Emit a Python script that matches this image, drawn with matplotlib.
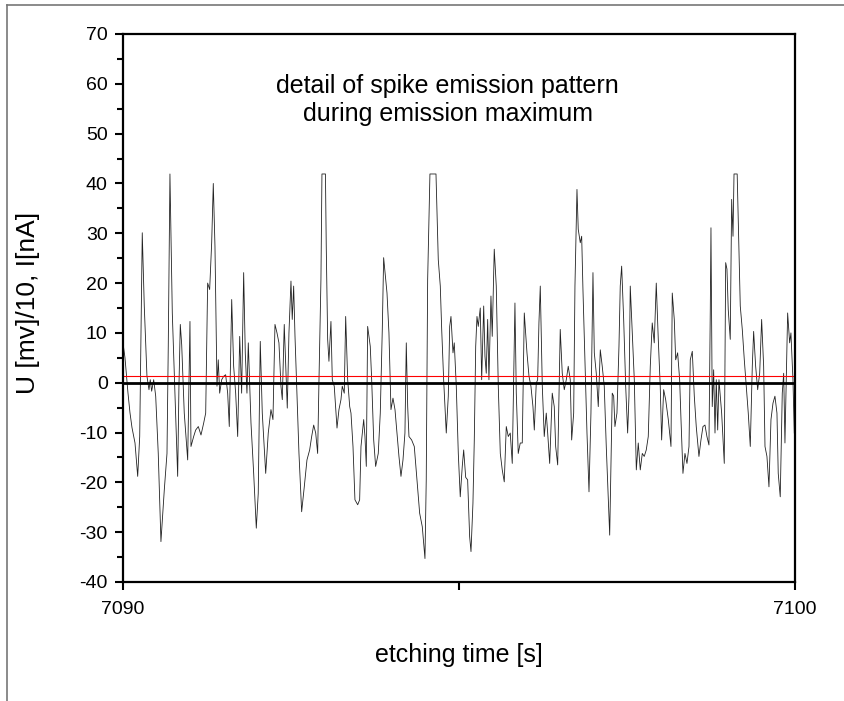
import matplotlib
matplotlib.use('Agg')
import matplotlib.pyplot as plt
from matplotlib.lines import Line2D
from matplotlib.ticker import MultipleLocator

plt.rcParams.update({
    'font.family': ['Liberation Sans', 'DejaVu Sans'],
    'font.size': 13,
    'axes.unicode_minus': False,
})

# Data
t_start = 7090
t_rel = [
    0.000, 0.030, 0.074, 0.104, 0.134, 0.179, 0.219, 0.249, 0.287, 0.317,
    0.357, 0.387, 0.406, 0.427, 0.457, 0.487, 0.525, 0.565, 0.615, 0.655,
    0.674, 0.699, 0.734, 0.763, 0.793, 0.814, 0.833, 0.853, 0.874, 0.912,
    0.963, 0.997, 1.012, 1.052, 1.082, 1.121, 1.161, 1.201, 1.231, 1.260,
    1.290, 1.320, 1.344, 1.369, 1.399, 1.418, 1.439, 1.469, 1.499, 1.528,
    1.558, 1.582, 1.618, 1.647, 1.677, 1.707, 1.737, 1.766, 1.796, 1.820,
    1.845, 1.865, 1.905, 1.945, 1.984, 2.013, 2.043, 2.073, 2.124, 2.162,
    2.202, 2.232, 2.262, 2.292, 2.321, 2.351, 2.371, 2.400, 2.421, 2.445,
    2.470, 2.500, 2.519, 2.540, 2.560, 2.589, 2.619, 2.659, 2.698, 2.738,
    2.778, 2.808, 2.838, 2.868, 2.897, 2.917, 2.946, 2.961, 3.013, 3.025,
    3.046, 3.065, 3.095, 3.115, 3.144, 3.185, 3.214, 3.244, 3.263, 3.293,
    3.314, 3.344, 3.374, 3.393, 3.423, 3.452, 3.493, 3.522, 3.542, 3.582,
    3.601, 3.621, 3.641, 3.661, 3.680, 3.701, 3.731, 3.760, 3.799, 3.829,
    3.859, 3.879, 3.909, 3.929, 3.958, 3.988, 4.018, 4.048, 4.077, 4.107,
    4.137, 4.167, 4.196, 4.216, 4.237, 4.256, 4.296, 4.335, 4.375, 4.415,
    4.454, 4.494, 4.513, 4.534, 4.568, 4.658, 4.692, 4.722, 4.743, 4.772,
    4.792, 4.811, 4.841, 4.862, 4.881, 4.911, 4.930, 4.960, 4.990, 5.019,
    5.049, 5.070, 5.100, 5.129, 5.159, 5.179, 5.208, 5.228, 5.249, 5.268,
    5.287, 5.317, 5.338, 5.368, 5.387, 5.406, 5.427, 5.446, 5.476, 5.495,
    5.525, 5.555, 5.585, 5.615, 5.644, 5.674, 5.704, 5.734, 5.763, 5.793,
    5.833, 5.853, 5.882, 5.912, 5.942, 5.972, 6.012, 6.042, 6.071, 6.101,
    6.121, 6.150, 6.171, 6.190, 6.210, 6.240, 6.269, 6.299, 6.320, 6.350,
    6.388, 6.418, 6.439, 6.469, 6.507, 6.537, 6.567, 6.597, 6.626, 6.656,
    6.677, 6.707, 6.726, 6.756, 6.775, 6.805, 6.826, 6.845, 6.875, 6.905,
    6.935, 6.964, 6.994, 7.014, 7.043, 7.073, 7.103, 7.132, 7.162, 7.192,
    7.222, 7.243, 7.262, 7.281, 7.302, 7.321, 7.351, 7.381, 7.400, 7.421,
    7.451, 7.481, 7.510, 7.530, 7.549, 7.579, 7.609, 7.639, 7.668, 7.698,
    7.728, 7.757, 7.787, 7.817, 7.847, 7.876, 7.906, 7.936, 7.966, 7.995,
    8.016, 8.046, 8.076, 8.115, 8.155, 8.174, 8.204, 8.225, 8.254, 8.284,
    8.304, 8.333, 8.363, 8.393, 8.423, 8.442, 8.472, 8.502, 8.531, 8.571,
    8.601, 8.631, 8.661, 8.690, 8.720, 8.740, 8.750, 8.769, 8.790, 8.810,
    8.829, 8.850, 8.869, 8.909, 8.948, 8.969, 8.988, 9.007, 9.037, 9.058,
    9.078, 9.093, 9.140, 9.156, 9.186, 9.216, 9.246, 9.275, 9.305, 9.335,
    9.365, 9.385, 9.415, 9.445, 9.475, 9.504, 9.534, 9.554, 9.583, 9.613,
    9.643, 9.673, 9.702, 9.732, 9.751, 9.781, 9.811, 9.832, 9.851, 9.871,
    9.891, 9.921, 9.940, 9.970, 9.990,
]
u_signal = [
    8.0, 5.0, -2.0, -6.0, -9.0, -12.1, -18.8, -10.8, 30.1, 15.4,
    1.3, -1.4, 0.6, -1.7, 0.6, -2.7, -14.2, -31.9, -21.5, -14.2,
    7.3, 41.9, 14.0, 1.9, -10.8, -18.8, -0.7, 11.7, 7.6, -6.1,
    -15.5, 12.3, -12.8, -10.8, -9.5, -8.8, -10.5, -8.1, -6.1, 20.0,
    18.7, 28.1, 40.0, 27.4, -0.7, 4.6, -2.1, 0.6, 1.3, 1.6,
    -2.1, -8.8, 16.7, 3.3, -2.1, -10.8, 9.3, -2.1, 22.1, 6.0,
    -2.1, 8.0, -8.1, -18.2, -29.2, -22.2, 8.3, -6.1, -18.2, -10.1,
    -5.4, -7.4, 11.7, 10.0, 8.0, -0.7, -3.4, 11.7, 4.0, -5.1,
    10.0, 20.4, 12.7, 19.4, 9.3, -2.1, -14.2, -25.9, -20.9, -15.5,
    -13.5, -10.8, -8.5, -10.1, -14.2, 0.6, 20.7, 41.9, 41.9, 27.4,
    8.7, 4.3, 12.3, 0.6, -0.7, -9.1, -5.4, -3.4, -0.7, -2.1,
    13.3, 0.6, -4.8, -6.1, -12.8, -23.5, -24.5, -23.5, -12.8, -7.4,
    -10.8, -16.8, 11.3, 9.3, 7.3, 0.6, -11.5, -16.8, -14.2, -6.1,
    10.7, 25.1, 20.7, 18.0, 10.0, -5.4, -3.1, -5.4, -10.1, -14.8,
    -18.8, -15.5, -10.1, 8.0, -4.8, -10.8, -11.5, -12.8, -19.5, -26.2,
    -28.9, -35.3, -19.5, 20.7, 41.9, 41.9, 24.7, 19.4, 10.7, 0.6,
    -4.8, -10.1, -2.7, 11.3, 13.3, 6.0, 8.0, -0.7, -14.2, -22.9,
    -16.8, -13.5, -19.0, -19.5, -30.9, -33.9, -24.2, -11.5, 7.3, 13.3,
    11.3, 15.0, 0.6, 15.4, 5.3, 1.9, 12.7, 0.6, 17.4, 9.3,
    26.8, 19.4, -0.7, -14.2, -17.5, -19.9, -8.8, -10.8, -10.1, -16.2,
    16.0, -2.1, -14.2, -12.1, -12.1, 14.0, 6.0, 1.3, -0.7, -4.8,
    -9.5, -0.1, 0.6, 12.0, 19.4, -0.7, -10.8, -6.1, -10.1, -16.2,
    -2.1, -4.8, -12.8, -16.5, 10.7, 1.9, -1.4, 0.6, 3.3, 0.6,
    -11.5, -6.1, 19.4, 38.8, 30.8, 28.1, 29.4, 18.7, 4.0, -10.1,
    -21.9, -6.1, 22.1, 6.0, 1.9, -4.8, 6.6, 3.3, -0.7, -12.8,
    -23.5, -30.6, -16.2, -2.1, -2.7, -8.8, -6.1, 7.3, 19.4, 23.4,
    12.7, -0.7, -10.1, -2.7, 19.4, 10.0, 0.6, -17.5, -12.1, -17.5,
    -14.2, -14.8, -13.5, -10.8, 3.3, 12.0, 8.0, 20.0, 8.7, -0.7,
    -11.5, -1.4, -3.4, -7.4, -12.8, 18.0, 12.7, 4.6, 6.0, 0.6,
    -7.4, -18.2, -14.2, -16.2, -12.8, 4.6, 6.3, -2.7, -8.8, -14.8,
    -11.5, -8.8, -8.5, -10.8, -12.5, 14.7, 31.1, -4.8, 2.6, -10.1,
    0.6, -9.5, 0.6, -6.1, -16.2, 24.1, 22.8, 14.7, 8.7, 36.8,
    29.4, 41.9, 41.9, 32.8, 15.4, 10.7, 4.6, -0.7, -6.1, -12.8,
    3.3, 10.3, 3.3, -1.4, 1.9, 12.7, 3.3, -12.8, -14.8, -20.9,
    -7.4, -4.1, -2.7, -6.1, -18.2, -22.9, -2.1, 1.9, -12.1, 0.6,
    14.0, 8.0, 10.0, 0.6, -10.1,
]
t_values = [t_start + t for t in t_rel]
zero_level = 0.0
offset_level = 1.4

fig = plt.figure(figsize=(8.44, 7.01), dpi=100)
ax = fig.add_axes([0.1457, 0.1698, 0.7962, 0.7817])

ax.plot(t_values, u_signal, color='#222222', linewidth=0.6)
ax.axhline(offset_level, color='red', linewidth=0.8)
ax.axhline(zero_level, color='black', linewidth=2.0)

ax.set_xlim(7090, 7100)
ax.set_ylim(-40, 70)
ax.set_xticks([7090, 7095, 7100])
ax.set_xticklabels(['7090', '', '7100'])
ax.yaxis.set_major_locator(MultipleLocator(10))
ax.yaxis.set_minor_locator(MultipleLocator(5))
ax.tick_params(which='major', direction='out', length=6, width=1.5, labelsize=14)
ax.tick_params(which='minor', direction='out', length=4, width=1.5)
ax.tick_params(axis='x', pad=8)
ax.tick_params(axis='y', pad=5)
for sp in ax.spines.values():
    sp.set_linewidth(1.6)

ax.set_xlabel('etching time [s]', fontsize=18)
ax.xaxis.set_label_coords(0.5, -0.112)
ax.set_ylabel('U [mv]/10, I[nA]', fontsize=19)
ax.yaxis.set_label_coords(-0.123, 0.51)
ax.text(7094.83, 56.7, 'detail of spike emission pattern\nduring emission maximum',
        ha='center', va='center', fontsize=18, linespacing=1.2)

# outer frame (top and left edges visible in the reference)
fig.add_artist(Line2D([7 / 844, 1.0], [1 - 5 / 701, 1 - 5 / 701],
                      transform=fig.transFigure, color='#777777', linewidth=1.2))
fig.add_artist(Line2D([7 / 844, 7 / 844], [0.0, 1 - 5 / 701],
                      transform=fig.transFigure, color='#777777', linewidth=1.2))

fig.savefig('out.png', dpi=100)
